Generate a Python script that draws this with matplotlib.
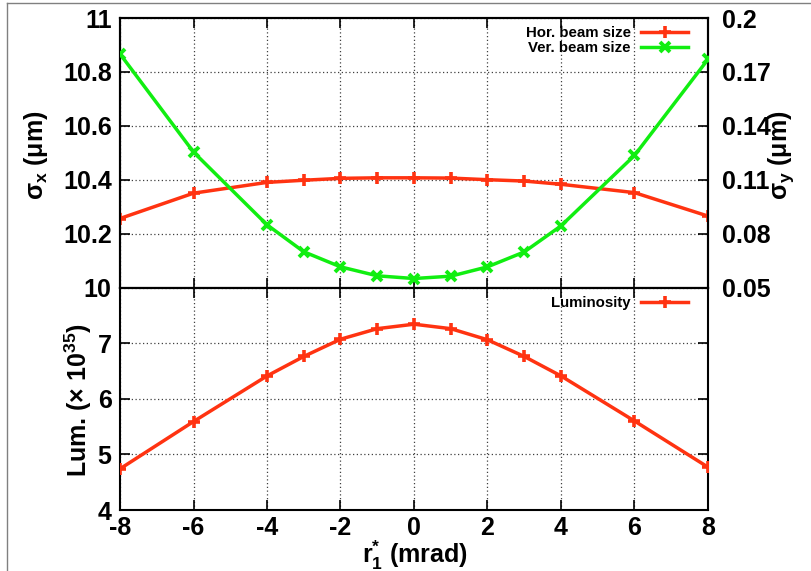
import matplotlib
matplotlib.use("Agg")
import matplotlib.pyplot as plt
from matplotlib.lines import Line2D

plt.rcParams['font.family'] = ['Liberation Sans', 'DejaVu Sans']
plt.rcParams['font.weight'] = 'bold'
plt.rcParams['axes.labelweight'] = 'bold'
plt.rcParams['mathtext.fontset'] = 'custom'
plt.rcParams['mathtext.rm'] = 'Liberation Sans:bold'
plt.rcParams['mathtext.it'] = 'Liberation Sans:bold'
plt.rcParams['mathtext.bf'] = 'Liberation Sans:bold'

# ---- data ----
angle = [-8, -6, -4, -3, -2, -1, 0, 1, 2, 3, 4, 6, 8]
hor_size = [10.256, 10.350, 10.390, 10.398, 10.405, 10.407, 10.407, 10.406, 10.400, 10.395, 10.383, 10.352, 10.265]
ver_size = [0.180, 0.1254, 0.0849, 0.0699, 0.0615, 0.0565, 0.0550, 0.0563, 0.0615, 0.0698, 0.0843, 0.1235, 0.177]
lumi = [4.74, 5.59, 6.41, 6.76, 7.07, 7.26, 7.34, 7.26, 7.06, 6.76, 6.41, 5.60, 4.77]

xticks = [-8, -6, -4, -2, 0, 2, 4, 6, 8]
left_ticks = [10, 10.2, 10.4, 10.6, 10.8, 11]
left_labels = ['10', '10.2', '10.4', '10.6', '10.8', '11']
right_ticks = [0.05, 0.08, 0.11, 0.14, 0.17, 0.2]
right_labels = ['0.05', '0.08', '0.11', '0.14', '0.17', '0.2']
lum_ticks = [4, 5, 6, 7, 8]
lum_labels = ['4', '5', '6', '7', '']

RED = '#ff3311'
GREEN = '#11ee11'
FS = 18
LFS = 10.8

fig = plt.figure(figsize=(8.12, 5.71), dpi=100)
L, R = 120/812, 708/812
ax1 = fig.add_axes([L, 1-287.5/571, R-L, (287.5-18)/571])
ax2 = fig.add_axes([L, 1-510/571, R-L, (510-287.5)/571])
ax1r = ax1.twinx()

grid_kw = dict(color='0.25', linestyle=(0, (1, 2)), linewidth=0.9)

# top panel
ax1.plot(angle, hor_size, color=RED, lw=2.5, marker='+', ms=9, mew=2.6, zorder=3)
ax1r.plot(angle, ver_size, color=GREEN, lw=2.5, marker='x', ms=7, mew=2.8, zorder=3)
ax1.set_xlim(-8, 8)
ax1.set_ylim(10, 11)
ax1r.set_ylim(0.05, 0.2)
ax1.set_xticks(xticks)
ax1.set_xticklabels([])
ax1.set_yticks(left_ticks)
ax1.set_yticklabels(left_labels)
ax1r.set_yticks(right_ticks)
ax1r.set_yticklabels(right_labels)
ax1.grid(True, **grid_kw)
ax1.tick_params(axis='both', direction='in', length=7, width=1.2, top=True, labelsize=FS)
ax1.tick_params(axis='y', pad=6)
ax1r.tick_params(axis='y', direction='in', length=7, width=1.2, labelsize=FS, pad=10)
ax1.set_ylabel(r'$\sigma_{x}$ ($\mu$m)', fontsize=FS)
ax1.yaxis.set_label_coords(-0.119, 0.49)
ax1r.set_ylabel(r'$\sigma_{y}$ ($\mu$m)', fontsize=FS, rotation=90)
ax1r.yaxis.set_label_coords(1.100, 0.49)

h1 = Line2D([], [], color=RED, lw=2.5, marker='+', ms=9, mew=2.6)
h2 = Line2D([], [], color=GREEN, lw=2.5, marker='x', ms=7, mew=2.8)
leg = ax1r.legend([h1, h2], ['Hor. beam size', 'Ver. beam size'], loc='upper right',
                  bbox_to_anchor=(0.976, 0.993), borderaxespad=0.0,
                  frameon=False, markerfirst=False, fontsize=LFS, handlelength=3.1,
                  labelspacing=0.1, handletextpad=0.7)
for t in leg.get_texts():
    t.set_ha('right')

# bottom panel
ax2.plot(angle, lumi, color=RED, lw=2.5, marker='+', ms=9, mew=2.6, zorder=3, label='Luminosity')
ax2.set_xlim(-8, 8)
ax2.set_ylim(4, 8)
ax2.set_xticks(xticks)
ax2.set_xticklabels([str(v) for v in xticks])
ax2.set_yticks(lum_ticks)
ax2.set_yticklabels(lum_labels)
ax2.grid(True, **grid_kw)
ax2.tick_params(axis='both', direction='in', length=7, width=1.2, top=True, right=True, labelsize=FS)
ax2.tick_params(axis='y', pad=6)
ax2.tick_params(axis='x', pad=4)
ax2.set_ylabel(r'Lum. ($\times$ 10$^{35}$)', fontsize=FS)
ax2.yaxis.set_label_coords(-0.045, 0.494)
ax2.set_xlabel(r'r$^{*}_{1}$ (mrad)', fontsize=FS)
ax2.xaxis.set_label_coords(0.502, -0.128)
ax2.legend(loc='upper right', bbox_to_anchor=(0.976, 0.989), borderaxespad=0.0,
           frameon=False, markerfirst=False, fontsize=LFS,
           handlelength=3.1, handletextpad=0.7)

for ax in (ax1, ax1r, ax2):
    for s in ax.spines.values():
        s.set_linewidth(1.5)

# outer gray frame (partially visible)
fig.add_artist(Line2D([7/812, 7/812], [0, 1-3/571], color='0.5', lw=1.0, transform=fig.transFigure))
fig.add_artist(Line2D([7/812, 1], [1-3/571, 1-3/571], color='0.5', lw=1.0, transform=fig.transFigure))

fig.savefig('out.png', dpi=100)
